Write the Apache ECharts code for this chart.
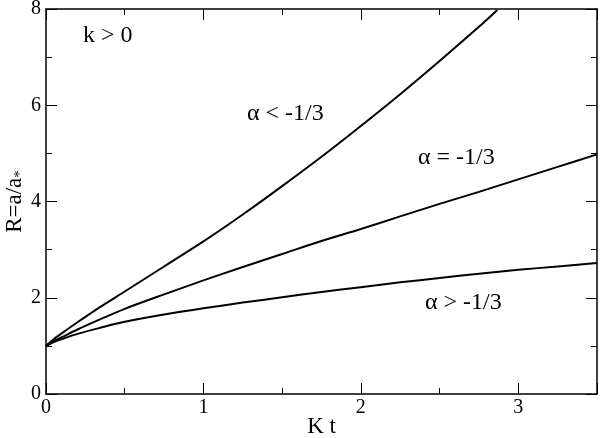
<!DOCTYPE html>
<html>
<head>
<meta charset="utf-8">
<script src="https://cdn.jsdelivr.net/npm/echarts@6/dist/echarts.min.js"></script>
<style>html,body{margin:0;padding:0;background:#fff;}#c{width:600px;height:438px;}</style>
</head>
<body>
<div id="c"></div>
<script>
// Data
const tUpper = [0, 0.05, 0.1, 0.2, 0.35, 0.5, 0.75, 1, 1.25, 1.5, 1.75, 2, 2.25, 2.5, 2.75, 2.867];
const rUpper = [1, 1.14, 1.26, 1.49, 1.82, 2.13, 2.65, 3.17, 3.73, 4.32, 4.93, 5.57, 6.23, 6.92, 7.63, 7.98];
const tCommon = [0, 0.05, 0.1, 0.2, 0.35, 0.5, 0.75, 1, 1.25, 1.5, 1.75, 2, 2.25, 2.5, 2.75, 3, 3.25, 3.5];
const rMiddle = [1, 1.10, 1.18, 1.34, 1.56, 1.77, 2.07, 2.36, 2.64, 2.91, 3.18, 3.43, 3.69, 3.95, 4.2, 4.46, 4.72, 4.98];
const rLower = [1, 1.08, 1.14, 1.25, 1.38, 1.50, 1.65, 1.78, 1.90, 2.01, 2.12, 2.22, 2.32, 2.41, 2.50, 2.58, 2.65, 2.72];
const xTicks = [0, 1, 2, 3];
const yTicks = [0, 2, 4, 6, 8];
const labels = ['k > 0', 'α < -1/3', 'α = -1/3', 'α > -1/3'];

const font = 'Liberation Serif';
const pairs = (ts, rs) => ts.map((t, i) => [t, rs[i]]);

const axisCommon = {
  axisLine: { show: true, onZero: false, lineStyle: { color: '#000', width: 1.5 } },
  axisTick: { show: true, inside: true, length: 11, lineStyle: { color: '#000', width: 1 } },
  minorTick: { show: true, splitNumber: 2, length: 6, lineStyle: { color: '#000', width: 1 } },
  splitLine: { show: false },
  minorSplitLine: { show: false }
};

const chart = echarts.init(document.getElementById('c'), null, { renderer: 'canvas' });
const lineStyle = { color: '#000', width: 2 };
const mkSeries = (data) => ({
  type: 'line', data: data, showSymbol: false, smooth: 0.3,
  lineStyle: lineStyle, xAxisIndex: 0, yAxisIndex: 0, clip: true, animation: false
});

chart.setOption({
  animation: false,
  backgroundColor: '#fff',
  grid: { left: 46, right: 3, top: 9, bottom: 44, containLabel: false, outerBoundsMode: 'none' },
  xAxis: [
    Object.assign({}, axisCommon, {
      type: 'value', min: 0, max: 3.5, interval: 1, position: 'bottom',
      name: 'K t', nameLocation: 'middle', nameGap: 21, nameMoveOverlap: false,
      nameTextStyle: { fontFamily: font, fontSize: 23, color: '#000', verticalAlign: 'top' },
      axisLabel: { show: true, fontFamily: font, fontSize: 20, color: '#000', margin: 4, showMaxLabel: false,
        formatter: v => xTicks.includes(v) ? String(v) : '' }
    }),
    Object.assign({}, axisCommon, {
      type: 'value', min: 0, max: 3.5, interval: 1, position: 'top',
      axisLabel: { show: false }
    })
  ],
  yAxis: [
    Object.assign({}, axisCommon, {
      type: 'value', min: 0, max: 8, interval: 2, position: 'left',
      name: 'R=a/a{sub|*}', nameLocation: 'middle', nameGap: 18, nameRotate: 90, nameMoveOverlap: false,
      nameTextStyle: { fontFamily: font, fontSize: 23, color: '#000',
        rich: { sub: { fontFamily: font, fontSize: 15, color: '#000', verticalAlign: 'bottom', padding: [12, 0, 0, 0] } } },
      axisLabel: { show: true, fontFamily: font, fontSize: 20, color: '#000', margin: 5,
        formatter: v => yTicks.includes(v) ? String(v) : '' }
    }),
    Object.assign({}, axisCommon, {
      type: 'value', min: 0, max: 8, interval: 2, position: 'right',
      axisLabel: { show: false }
    })
  ],
  series: [
    mkSeries(pairs(tUpper, rUpper)),
    mkSeries(pairs(tCommon, rMiddle)),
    mkSeries(pairs(tCommon, rLower))
  ],
  graphic: [
    { type: 'text', left: 83, top: 24, style: { text: labels[0], fontFamily: font, fontSize: 24, fill: '#000' } },
    { type: 'text', left: 247, top: 102, style: { text: labels[1], fontFamily: font, fontSize: 24, fill: '#000' } },
    { type: 'text', left: 418, top: 146, style: { text: labels[2], fontFamily: font, fontSize: 24, fill: '#000' } },
    { type: 'text', left: 425, top: 291, style: { text: labels[3], fontFamily: font, fontSize: 24, fill: '#000' } }
  ]
});
</script>
</body>
</html>
